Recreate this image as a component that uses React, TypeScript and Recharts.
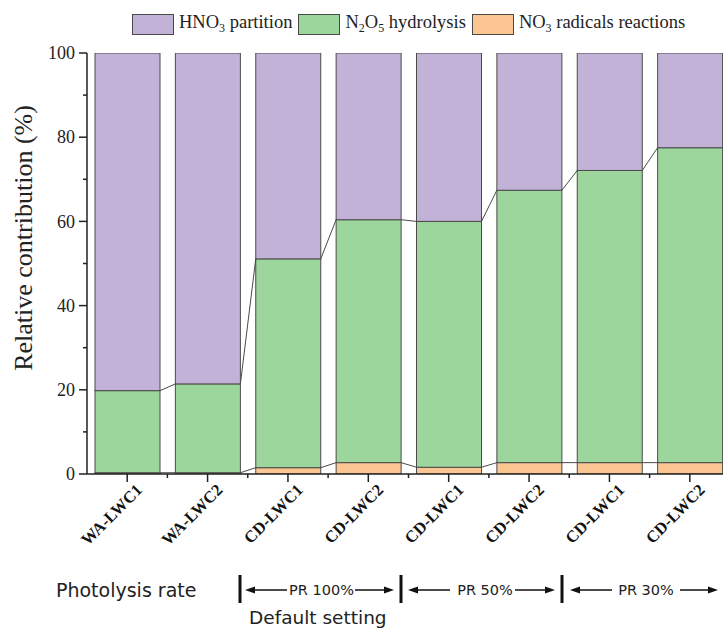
import React from "react";
import { BarChart, Bar, XAxis, YAxis } from "recharts";

// run labels along the x axis
const categories = ["WA-LWC1", "WA-LWC2", "CD-LWC1", "CD-LWC2", "CD-LWC1", "CD-LWC2", "CD-LWC1", "CD-LWC2"];

// relative contribution (%) of each pathway
const no3Radicals = [0.3, 0.3, 1.5, 2.7, 1.6, 2.7, 2.7, 2.7];
const n2o5Hydrolysis = [19.5, 21.1, 49.6, 57.7, 58.4, 64.7, 69.4, 74.8];
const hno3Partition = [80.2, 78.6, 48.9, 39.6, 40.0, 32.6, 27.9, 22.5];

const yTicks = [0, 10, 20, 30, 40, 50, 60, 70, 80, 90, 100];

const COLORS = {
  hno3: "#c3b2d7",
  n2o5: "#9dd69c",
  no3: "#fcc692",
};
const EDGE = "#4a4a4a";
const SERIF = "'Liberation Serif', 'Times New Roman', serif";
const SANS = "'DejaVu Sans', Verdana, sans-serif";

const data = categories.map((name, i) => ({
  idx: i,
  name,
  no3: no3Radicals[i],
  n2o5: n2o5Hydrolysis[i],
  hno3: hno3Partition[i],
}));

// top corners of each bar, filled while the bars render in order
const tops: Record<string, { x: number; y: number; w: number }> = {};

function makeShape(key: string, fill: string, connect: boolean) {
  return (props: any) => {
    const { x, y, width, height, index } = props;
    let link = null;
    if (connect) {
      tops[`${key}-${index}`] = { x, y, w: width };
      const prev = tops[`${key}-${index - 1}`];
      if (index > 0 && prev) {
        link = (
          <line x1={prev.x + prev.w} y1={prev.y} x2={x} y2={y} stroke={EDGE} strokeWidth={1} />
        );
      }
    }
    return (
      <g>
        <rect x={x} y={y} width={width} height={Math.max(height, 0)} fill={fill} stroke={EDGE} strokeWidth={1} />
        {link}
      </g>
    );
  };
}

function XTick({ x, y, payload }: any) {
  const half = payload?.offset ?? 0;
  const label = categories[payload.value] ?? payload.value;
  const tx = x + 16;
  const ty = y + 17;
  return (
    <g>
      <line x1={x} y1={y} x2={x} y2={y + 8} stroke="#222" strokeWidth={1.5} />
      {half > 0 && <line x1={x + half} y1={y} x2={x + half} y2={y + 4} stroke="#222" strokeWidth={1.5} />}
      <text
        x={tx}
        y={ty}
        transform={`rotate(-45 ${tx} ${ty})`}
        textAnchor="end"
        fontFamily={SERIF}
        fontWeight="bold"
        fontSize={16.5}
        fill="#111"
      >
        {label}
      </text>
    </g>
  );
}

function YTick({ x, y, payload }: any) {
  const major = payload.value % 20 === 0;
  return (
    <g>
      <line x1={x} y1={y} x2={x - (major ? 8 : 4)} y2={y} stroke="#222" strokeWidth={1.5} />
      {major && (
        <text x={x - 12} y={y} dy="0.34em" textAnchor="end" fontFamily={SERIF} fontSize={18} fill="#222">
          {payload.value}
        </text>
      )}
    </g>
  );
}

function LegendBox({ color }: { color: string }) {
  return (
    <span
      style={{
        display: "inline-block",
        width: 40,
        height: 19,
        background: color,
        border: `1px solid ${EDGE}`,
        marginRight: 5,
      }}
    />
  );
}

function ChartLegend() {
  const sub = { fontSize: 12, verticalAlign: "-4px" } as React.CSSProperties;
  const item = { display: "flex", alignItems: "center", marginRight: 6 } as React.CSSProperties;
  return (
    <div
      style={{
        position: "absolute",
        left: 132,
        top: 12,
        display: "flex",
        fontFamily: SERIF,
        fontSize: 18.5,
        color: "#222",
        whiteSpace: "nowrap",
      }}
    >
      <div style={item}>
        <LegendBox color={COLORS.hno3} />
        <span>HNO<span style={sub}>3</span> partition</span>
      </div>
      <div style={item}>
        <LegendBox color={COLORS.n2o5} />
        <span>N<span style={sub}>2</span>O<span style={sub}>5</span> hydrolysis</span>
      </div>
      <div style={item}>
        <LegendBox color={COLORS.no3} />
        <span>NO<span style={sub}>3</span> radicals reactions</span>
      </div>
    </div>
  );
}

function Arrow({ from, to, y }: { from: number; to: number; y: number }) {
  const dir = to > from ? 1 : -1;
  const base = to - dir * 10;
  return (
    <g>
      <line x1={from} y1={y} x2={base} y2={y} stroke="#111" strokeWidth={1.5} />
      <polygon points={`${to},${y} ${base},${y - 3.5} ${base},${y + 3.5}`} fill="#111" />
    </g>
  );
}

function Annotations() {
  const ay = 590;
  return (
    <svg width={723} height={631} style={{ position: "absolute", left: 0, top: 0, pointerEvents: "none" }}>
      <text
        x={23}
        y={238}
        transform="rotate(-90 23 238)"
        textAnchor="middle"
        dominantBaseline="central"
        fontFamily={SERIF}
        fontSize={26}
        fill="#222"
      >
        Relative contribution (%)
      </text>
      <text x={56} y={ay} dominantBaseline="central" fontFamily={SANS} fontSize={19} fill="#222">
        Photolysis rate
      </text>
      <text x={249} y={617} dominantBaseline="central" fontFamily={SANS} fontSize={18.5} fill="#222">
        Default setting
      </text>
      {[240, 401, 562].map((sx) => (
        <line key={sx} x1={sx} y1={575} x2={sx} y2={603} stroke="#111" strokeWidth={3} />
      ))}
      <Arrow from={287} to={245} y={ay} />
      <Arrow from={355} to={394} y={ay} />
      <text x={321.5} y={ay} dominantBaseline="central" textAnchor="middle" fontFamily={SANS} fontSize={14.5} fill="#222">
        PR 100%
      </text>
      <Arrow from={450} to={408} y={ay} />
      <Arrow from={515} to={555} y={ay} />
      <text x={485} y={ay} dominantBaseline="central" textAnchor="middle" fontFamily={SANS} fontSize={14.5} fill="#222">
        PR 50%
      </text>
      <Arrow from={612} to={570} y={ay} />
      <Arrow from={680} to={718} y={ay} />
      <text x={646} y={ay} dominantBaseline="central" textAnchor="middle" fontFamily={SANS} fontSize={14.5} fill="#222">
        PR 30%
      </text>
    </svg>
  );
}

export default function App() {
  return (
    <div
      style={{
        position: "absolute",
        left: 0,
        top: 0,
        width: 723,
        height: 631,
        overflow: "hidden",
        background: "#fff",
      }}
    >
      <BarChart
        width={730}
        height={631}
        data={data}
        margin={{ top: 53, right: 0, bottom: 7, left: 0 }}
        barSize={65}
      >
        <XAxis
          dataKey="idx"
          type="category"
          height={150}
          interval={0}
          tickSize={0}
          tickMargin={0}
          tickLine={false}
          axisLine={{ stroke: "#222", strokeWidth: 1.5 }}
          tick={<XTick />}
        />
        <YAxis
          width={87}
          type="number"
          domain={[0, 100]}
          allowDataOverflow
          ticks={yTicks}
          interval={0}
          tickSize={0}
          tickMargin={0}
          tickLine={false}
          axisLine={{ stroke: "#222", strokeWidth: 1.5 }}
          tick={<YTick />}
        />
        <Bar dataKey="no3" stackId="a" isAnimationActive={false} shape={makeShape("no3", COLORS.no3, true)} />
        <Bar dataKey="n2o5" stackId="a" isAnimationActive={false} shape={makeShape("n2o5", COLORS.n2o5, true)} />
        <Bar dataKey="hno3" stackId="a" isAnimationActive={false} shape={makeShape("hno3", COLORS.hno3, false)} />
      </BarChart>
      <ChartLegend />
      <Annotations />
    </div>
  );
}
